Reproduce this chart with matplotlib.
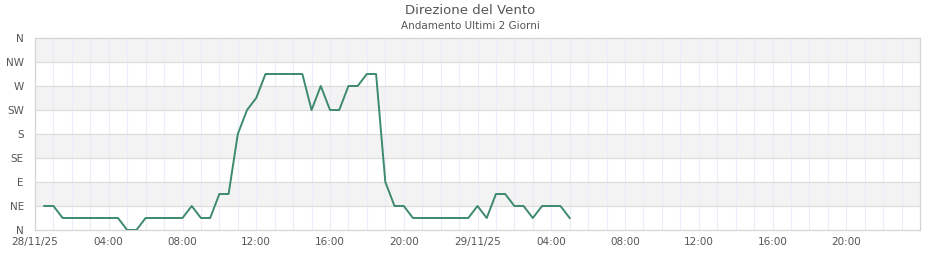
import matplotlib

matplotlib.use("Agg")
import matplotlib.pyplot as plt
import numpy as np

# Data: hours since 28/11/25 00:00, direction in degrees
HOURS = np.arange(0.5, 29.01, 0.5)
DIRECTION = [
    45, 45, 22.5, 22.5, 22.5, 22.5, 22.5, 22.5, 22.5, 0,
    0, 22.5, 22.5, 22.5, 22.5, 22.5, 45, 22.5, 22.5, 67.5,
    67.5, 180, 225, 247.5, 292.5, 292.5, 292.5, 292.5, 292.5, 225,
    270, 225, 225, 270, 270, 292.5, 292.5, 90, 45, 45,
    22.5, 22.5, 22.5, 22.5, 22.5, 22.5, 22.5, 45, 22.5, 67.5,
    67.5, 45, 45, 22.5, 45, 45, 45, 22.5,
]
Y_TICKS = [0, 45, 90, 135, 180, 225, 270, 315, 360]
Y_LABELS = ["N", "NE", "E", "SE", "S", "SW", "W", "NW", "N"]
X_TICKS = [0, 4, 8, 12, 16, 20, 24, 28, 32, 36, 40, 44]
X_LABELS = ["28/11/25", "04:00", "08:00", "12:00", "16:00", "20:00",
            "29/11/25", "04:00", "08:00", "12:00", "16:00", "20:00"]

TEXT_COLOR = "#555555"
LINE_COLOR = "#3d8a6d"


def main() -> None:
    fig = plt.figure(figsize=(9.4, 2.6), dpi=100)
    ax = fig.add_axes([35 / 940, 30 / 260, 885 / 940, 192 / 260])

    # alternating bands
    for lo in Y_TICKS[1::2]:
        ax.axhspan(lo, lo + 45, color="#f3f3f3", lw=0, zorder=0)

    # hourly vertical grid
    for h in range(1, 48):
        ax.axvline(h, color="#ececfa", lw=0.8, zorder=1)
    for y in Y_TICKS[1:-1]:
        ax.axhline(y, color="#dddddd", lw=0.9, zorder=1)

    ax.plot(HOURS, DIRECTION, color=LINE_COLOR, lw=1.4, zorder=3)

    ax.set_xlim(0, 48)
    ax.set_ylim(0, 360)
    ax.set_yticks(Y_TICKS)
    ax.set_yticklabels(Y_LABELS)
    ax.set_xticks(X_TICKS)
    ax.set_xticklabels(X_LABELS)
    ax.tick_params(length=0, labelsize=7.5, labelcolor=TEXT_COLOR)
    ax.tick_params(axis="y", pad=8)
    ax.tick_params(axis="x", pad=5)

    for spine in ax.spines.values():
        spine.set_color("#d4d4d4")
        spine.set_linewidth(0.9)

    fig.text(0.5, 1 - 11 / 260, "Direzione del Vento", ha="center", va="center",
             fontsize=9.5, color=TEXT_COLOR)
    fig.text(0.5, 1 - 26 / 260, "Andamento Ultimi 2 Giorni", ha="center",
             va="center", fontsize=7.5, color=TEXT_COLOR)

    fig.savefig("out.png", dpi=100)


if __name__ == "__main__":
    main()
